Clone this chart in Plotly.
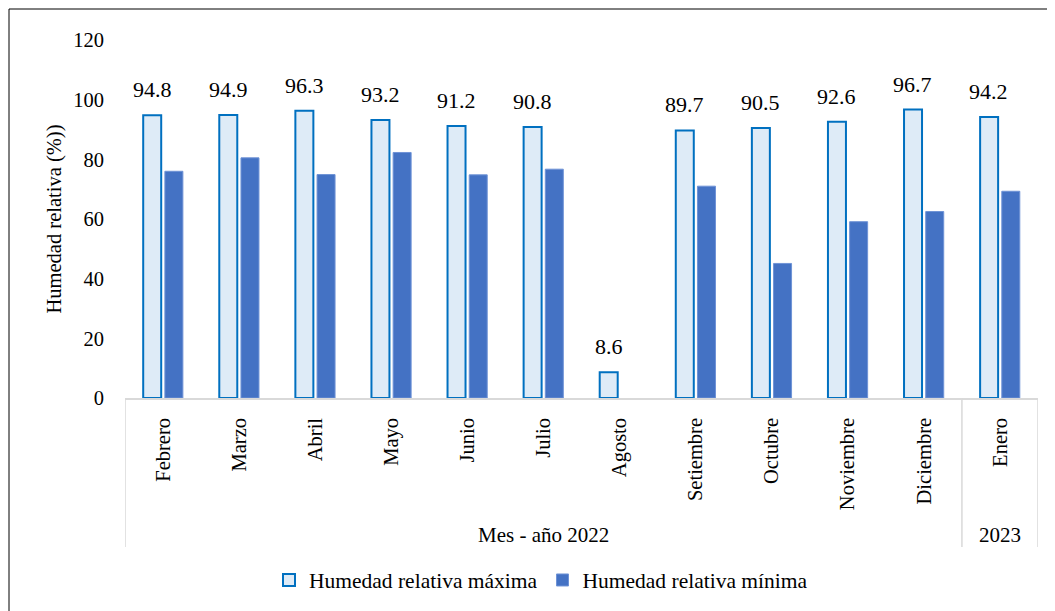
import plotly.graph_objects as go

months = ["Febrero", "Marzo", "Abril", "Mayo", "Junio", "Julio", "Agosto",
          "Setiembre", "Octubre", "Noviembre", "Diciembre", "Enero"]
hr_max = [94.8, 94.9, 96.3, 93.2, 91.2, 90.8, 8.6, 89.7, 90.5, 92.6, 96.7, 94.2]
hr_min = [76.0, 80.5, 74.9, 82.3, 74.8, 76.7, None, 71.0, 45.1, 59.1, 62.5, 69.3]
groups = ["Mes - año 2022", "2023"]
group_spans = [(0, 10), (11, 11)]
y_ticks = [0, 20, 40, 60, 80, 100, 120]

FONT = "Liberation Serif"
OFF = 8  # page body margin
W, H = 1055, 611
L, T = 125 - OFF, 40 - OFF
pw, ph = 913, 358
R = W - L - pw
B = H - T - ph

fig = go.Figure()
fig.add_trace(go.Bar(
    x=months, y=hr_max, name="Humedad relativa máxima",
    marker=dict(color="#DEEBF7", line=dict(color="#0070C0", width=2)),
))
fig.add_trace(go.Bar(
    x=months, y=hr_min, name="Humedad relativa mínima",
    marker=dict(color="#4472C4", line=dict(color="#6F93D6", width=1)),
))

annotations = []
for m, v in zip(months, hr_max):
    annotations.append(dict(
        x=m, y=v, xref="x", yref="y", text=f"{v:.1f}", showarrow=False,
        yanchor="bottom", xanchor="center", xshift=-11, yshift=11,
        font=dict(family=FONT, size=22, color="#000000"),
    ))

def py_paper(py):
    return 1 - (py - OFF - T) / ph

def px_paper(px):
    return (px - OFF - L) / pw

shapes = []
for b in [-0.5, 10.5, 11.5]:
    shapes.append(dict(type="line", xref="x", yref="paper", x0=b, x1=b,
                       y0=0, y1=py_paper(547),
                       line=dict(color="#D9D9D9", width=1.5)))
for (a, b_), g in zip(group_spans, groups):
    annotations.append(dict(
        x=(a + b_) / 2, y=py_paper(535), xref="x", yref="paper",
        text=g, showarrow=False, yanchor="middle", xanchor="center",
        font=dict(family=FONT, size=21, color="#000000"),
    ))
shapes.append(dict(type="rect", xref="paper", yref="paper",
                   x0=px_paper(9), x1=px_paper(1075),
                   y0=py_paper(640), y1=py_paper(9),
                   line=dict(color="#000000", width=1), fillcolor="rgba(0,0,0,0)", layer="below"))

fig.update_layout(
    width=W, height=H,
    margin=dict(l=L, r=R, t=T, b=B, pad=0),
    paper_bgcolor="white", plot_bgcolor="white",
    barmode="group", bargap=0.43, bargroupgap=0.17,
    font=dict(family=FONT, size=20, color="#000000"),
    showlegend=True,
    legend=dict(orientation="h", x=px_paper(541), xanchor="center",
                y=py_paper(580), yanchor="middle",
                font=dict(family=FONT, size=21.5, color="#000000"),
                itemwidth=30, tracegroupgap=0, bgcolor="rgba(0,0,0,0)"),
    annotations=annotations,
    shapes=shapes,
)
fig.update_xaxes(
    type="category", tickangle=-90, showgrid=False, showline=True,
    linecolor="#D9D9D9", linewidth=1.5, ticks="outside", ticklen=10,
    tickcolor="rgba(0,0,0,0)", tickfont=dict(family=FONT, size=20.5),
    range=[-0.5, 11.5],
)
fig.update_yaxes(
    range=[0, 120], tickvals=y_ticks, showgrid=False, showline=False,
    zeroline=False, ticks="outside", ticklen=16, tickcolor="rgba(0,0,0,0)",
    tickfont=dict(family=FONT, size=20.5),
    title=dict(text="Humedad relativa (%))", font=dict(family=FONT, size=20.5), standoff=5),
)

fig.write_html("out.html")
